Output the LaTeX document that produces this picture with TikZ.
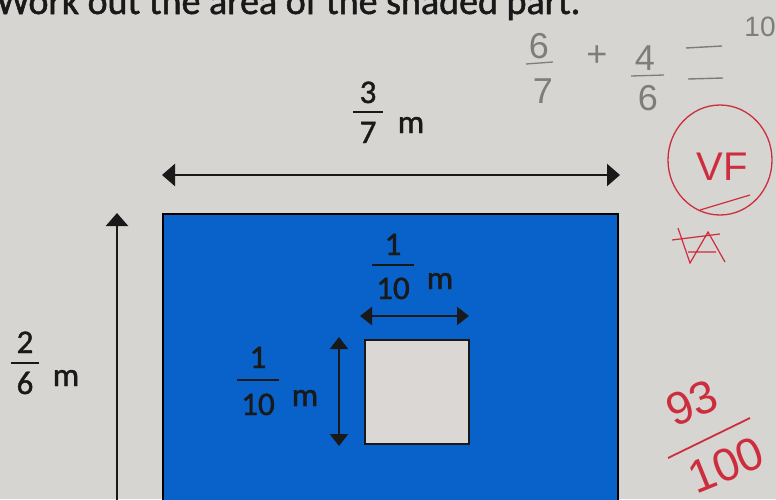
\documentclass[tikz,border=0pt]{standalone}
\usepackage{fontspec}
\setmainfont{Carlito}
\newfontfamily\lblfont{Carlito}[FakeBold=1.3]
\newfontfamily\hand{Liberation Sans}
\usetikzlibrary{arrows.meta}
\definecolor{paper}{RGB}{214,213,210}
\definecolor{sheetblue}{RGB}{8,98,202}
\definecolor{holegrey}{RGB}{218,215,212}
\definecolor{pencil}{RGB}{125,125,122}
\definecolor{redpen}{RGB}{205,45,60}
\tikzset{
  lbl/.style={font=\lblfont\fontsize{33}{33}\selectfont, text=black!90, inner sep=0pt, anchor=base},
  bar/.style={line width=2.4pt, black!90},
  dim/.style={line width=2.4pt, black!90, {Triangle[width=22pt,length=13pt]}-{Triangle[width=22pt,length=13pt]}},
  dimone/.style={line width=2.4pt, black!90, -{Triangle[width=22pt,length=13pt]}},
  pen/.style={font=\hand\fontsize{36}{36}\selectfont, text=pencil, inner sep=0pt, anchor=base},
  red/.style={font=\hand\fontsize{40}{40}\selectfont, text=redpen, inner sep=0pt, anchor=base},
  redbig/.style={font=\hand\fontsize{46}{46}\selectfont, text=redpen, inner sep=0pt, anchor=center, rotate=22},
}
\begin{document}
\begin{tikzpicture}[x=1pt,y=-1pt]
\useasboundingbox (0,0) rectangle (776,499);
\clip (0,0) rectangle (776,499);
\fill[paper] (0,0) rectangle (776,499);
% title (cut at top, as in the photo)
\node[font=\lblfont\fontsize{38}{38}\selectfont, inner sep=0pt, anchor=base west, text=black!90] (title) at (-4,14) {Work out the area of the shaded part.};
% big shape
\draw[line width=2.4pt, fill=sheetblue] (163,214) rectangle (618,520);
\node[draw=black!90, line width=2.2pt, fill=holegrey, minimum width=104pt, minimum height=104pt, inner sep=0pt] (hole) at (417,392) {};
% top dimension
\coordinate (tl) at (162,175);
\coordinate (tr) at (620,175);
\draw[dim] (tl) -- (tr);
\node[lbl] (n37) at (368,103) {3};
\draw[bar] (353,112) -- (383,112);
\node[lbl] (d37) at (368,143) {7};
\node[lbl] (m37) at (411,133) {m};
% left dimension
\coordinate (lb) at (117,520);
\coordinate (lt) at (117,213);
\draw[dimone] (lb) -- (lt);
\node[lbl] (n26) at (25,353) {2};
\draw[bar] (11,363) -- (39,363);
\node[lbl] (d26) at (25,394) {6};
\node[lbl] (m26) at (66,386) {m};
% small horizontal dimension
\coordinate (hl) at (360,316);
\coordinate (hr) at (469,316);
\draw[dim, {Triangle[width=18pt,length=12pt]}-{Triangle[width=18pt,length=12pt]}] (hl) -- (hr);
\node[lbl] (n1a) at (393,255) {1};
\draw[bar] (372,265) -- (414,265);
\node[lbl] (d1a) at (393,299) {10};
\node[lbl] (m1a) at (440,289) {m};
% small vertical dimension
\coordinate (vt) at (339,337);
\coordinate (vb) at (339,446);
\draw[dim, {Triangle[width=18pt,length=12pt]}-{Triangle[width=18pt,length=12pt]}] (vt) -- (vb);
\node[lbl] (n1b) at (258,368) {1};
\draw[bar] (237,380) -- (279,380);
\node[lbl] (d1b) at (258,415) {10};
\node[lbl] (m1b) at (305,406) {m};
% pencil working
\node[pen] (p6) at (539,58) {6};
\draw[pencil, line width=1.3pt] (526,64) -- (553,62);
\node[pen] (p7) at (543,103) {7};
\node[pen] (pplus) at (597,66) {+};
\node[pen] (p4) at (645,70) {4};
\draw[pencil, line width=1.3pt] (631,76) -- (664,75);
\node[pen] (p6b) at (648,110) {6};
\draw[pencil, line width=1.4pt] (686,48) -- (722,46);
\draw[pencil, line width=1.4pt] (688,79) -- (723,78);
\node[pen, font=\hand\fontsize{28}{28}\selectfont] (p10) at (760,36) {10};
% red marks
\draw[redpen, line width=1.3pt] (720,160) ellipse [x radius=52pt, y radius=55pt];
\draw[redpen, line width=1.2pt] (700,210) -- (750,195);
\node[red] (vf) at (722,180) {VF};
\draw[redpen, line width=1.2pt] (672,240) -- (720,234) (678,228) -- (690,263) -- (708,232) -- (725,262) (688,252) -- (716,252);
\node[redbig] (n93) at (692,403) {93};
\coordinate (fl) at (668,458);
\coordinate (fr) at (750,418);
\draw[redpen, line width=1.8pt] (fl) -- (fr);
\node[redbig] (d100) at (726,465) {100};
\end{tikzpicture}
\end{document}
